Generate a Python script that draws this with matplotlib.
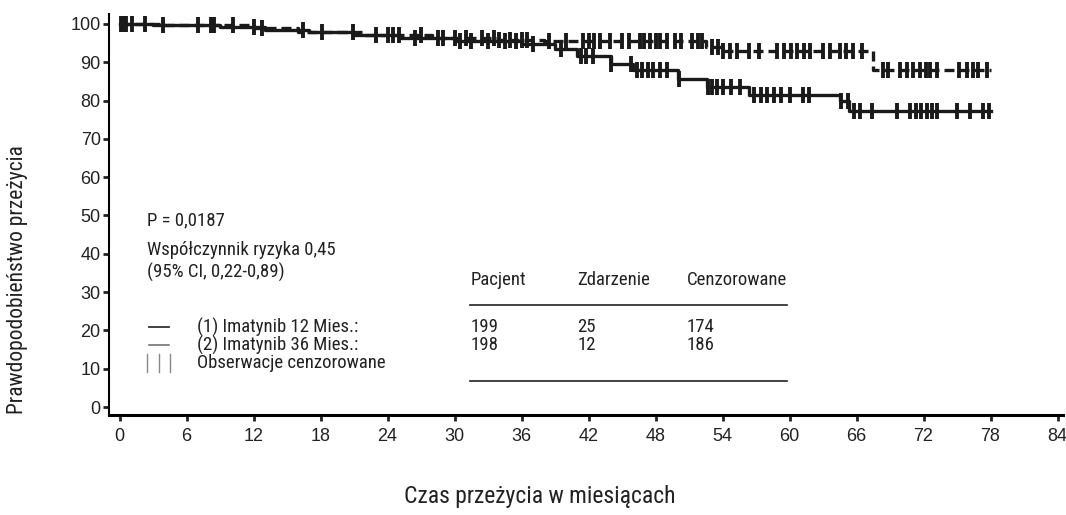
import matplotlib
matplotlib.use("Agg")
import matplotlib.pyplot as plt

# Kaplan-Meier steps (months, survival %)
t_12 = [0, 3, 9, 13, 17, 21, 25, 30, 36, 39, 41, 44, 46, 50, 52.6, 56.4, 64.5, 65.3, 78]
s_12 = [100, 99.6, 99.2, 98.5, 97.8, 97.1, 96.3, 95.6, 94.8, 93.5, 91.5, 89.5, 88.0, 85.5, 83.5, 81.5, 80.0, 77.2, 77.2]

t_36 = [0, 4, 12, 16, 22, 28, 34, 38, 52.5, 54, 67.5, 78]
s_36 = [100, 99.6, 98.9, 97.9, 97.0, 96.3, 95.8, 95.5, 94.0, 93.0, 88.0, 88.0]

cens_12 = [0.3, 1.1, 3.9, 8.2, 12.0, 16.4, 20.9, 24.5, 26.5, 28.5, 30.5, 31.5, 33.0, 34.5,
           35.5, 37.0, 39.5, 41.3, 41.8, 42.4, 44.0, 45.8, 46.3, 46.8, 47.3, 47.8, 48.4,
           49.0, 50.1, 52.7, 53.1, 53.5, 54.0, 54.8, 55.6, 56.8, 57.4, 58.0, 58.6, 59.2,
           60.0, 61.2, 61.7, 64.6, 65.2, 65.8, 66.3, 67.4, 69.6, 70.8, 71.3, 71.8, 72.3,
           72.8, 73.2, 75.0, 76.2, 77.3, 77.9]
cens_36 = [0.1, 0.6, 2.3, 7.0, 8.5, 10.2, 12.8, 18.1, 23.0, 24.0, 25.0, 27.0, 29.0, 30.0,
           31.0, 32.5, 33.5, 34.0, 35.0, 36.0, 36.5, 38.5, 40.0, 41.5, 42.0, 42.5, 43.0,
           43.9, 45.0, 45.6, 46.6, 47.0, 47.5, 48.0, 48.4, 49.0, 49.7, 50.3, 51.3, 51.8,
           52.2, 53.1, 53.6, 54.0, 54.7, 55.3, 56.4, 57.3, 58.9, 59.5, 60.1, 60.7, 61.3,
           61.8, 63.0, 63.6, 64.5, 65.1, 65.7, 66.5, 68.4, 68.8, 69.9, 70.5, 71.1, 71.7,
           72.2, 72.6, 73.2, 75.2, 75.9, 76.4, 76.9, 77.7]

x_ticks = [0, 6, 12, 18, 24, 30, 36, 42, 48, 54, 60, 66, 72, 78, 84]
y_ticks = [0, 10, 20, 30, 40, 50, 60, 70, 80, 90, 100]

table_cols = ["Pacjent", "Zdarzenie", "Cenzorowane"]
table_rows = [["199", "25", "174"], ["198", "12", "186"]]
legend_labels = ["(1) Imatynib 12 Mies.:", "(2) Imatynib 36 Mies.:", "Obserwacje cenzorowane"]

NARROW = ["Roboto Condensed", "Archivo Narrow", "PT Sans Narrow", "DejaVu Sans"]
plt.rcParams["font.family"] = NARROW
FS = 13.5


def surv_at(times, surv, t):
    val = surv[0]
    for ti, si in zip(times, surv):
        if ti <= t:
            val = si
    return val


fig = plt.figure(figsize=(10.66, 5.15), dpi=100)
ax = fig.add_axes([0.1023, 0.194, 0.895, 0.779])

ax.step(t_12, s_12, where="post", color="#1a1a1a", lw=2.4)
ax.step(t_36, s_36, where="post", color="#1a1a1a", lw=2.4, linestyle=(0, (3, 1.5)))

ax.plot(cens_12, [surv_at(t_12, s_12, t) for t in cens_12], ls="none", marker="|",
        ms=12, mew=2.8, color="#1a1a1a")
ax.plot(cens_36, [surv_at(t_36, s_36, t) for t in cens_36], ls="none", marker="|",
        ms=12, mew=2.8, color="#1a1a1a")

ax.set_xlim(-0.94, 84.5)
ax.set_ylim(-2.1, 102.6)
ax.set_xticks(x_ticks)
ax.set_yticks(y_ticks)
ax.tick_params(direction="out", length=4, width=2, labelsize=13, pad=2, colors="#222")
ax.tick_params(axis="x", pad=5)
for lab in ax.get_xticklabels() + ax.get_yticklabels():
    lab.set_family(["Liberation Sans", "DejaVu Sans"])
for side in ["top", "right"]:
    ax.spines[side].set_visible(False)
ax.spines["left"].set_linewidth(1.5)
ax.spines["bottom"].set_linewidth(2.2)

# statistics text
ax.text(2.46, 48.6, "P = 0,0187", fontsize=FS, va="center", color="#222")
ax.text(2.46, 41.0, "Współczynnik ryzyka 0,45", fontsize=FS, va="center", color="#222")
ax.text(2.46, 35.2, "(95% CI, 0,22-0,89)", fontsize=FS, va="center", color="#222")

# legend
leg_y = [20.9, 16.2, 11.5]
ax.plot([2.6, 4.4], [leg_y[0], leg_y[0]], color="#333", lw=1.3)
ax.plot([2.6, 4.4], [leg_y[1], leg_y[1]], color="#666", lw=1.1)
for xm in [2.5, 3.5, 4.5]:
    ax.plot([xm, xm], [leg_y[2] - 2.3, leg_y[2] + 2.3], color="#888", lw=1.0)
for y, lab in zip(leg_y, legend_labels):
    ax.text(6.94, y, lab, fontsize=FS, va="center", color="#222")

# table
col_x = [31.4, 41.0, 50.8]
for x, c in zip(col_x, table_cols):
    ax.text(x, 33.2, c, fontsize=FS, va="center", color="#222")
for y, row in zip(leg_y[:2], table_rows):
    for x, v in zip(col_x, row):
        ax.text(x, y, v, fontsize=FS, va="center", color="#222")
ax.plot([31.4, 59.8], [26.6, 26.6], color="#222", lw=1.2)
ax.plot([31.4, 59.8], [6.8, 6.8], color="#222", lw=1.2)

fig.text(18 / 1066, 1 - 280 / 515, "Prawdopodobieństwo przeżycia", rotation=90,
         ha="center", va="center", fontsize=15.5, color="#222")
fig.text(540 / 1066, 1 - 497 / 515, "Czas przeżycia w miesiącach",
         ha="center", va="center", fontsize=17, color="#222")

fig.savefig("out.png", dpi=100)
